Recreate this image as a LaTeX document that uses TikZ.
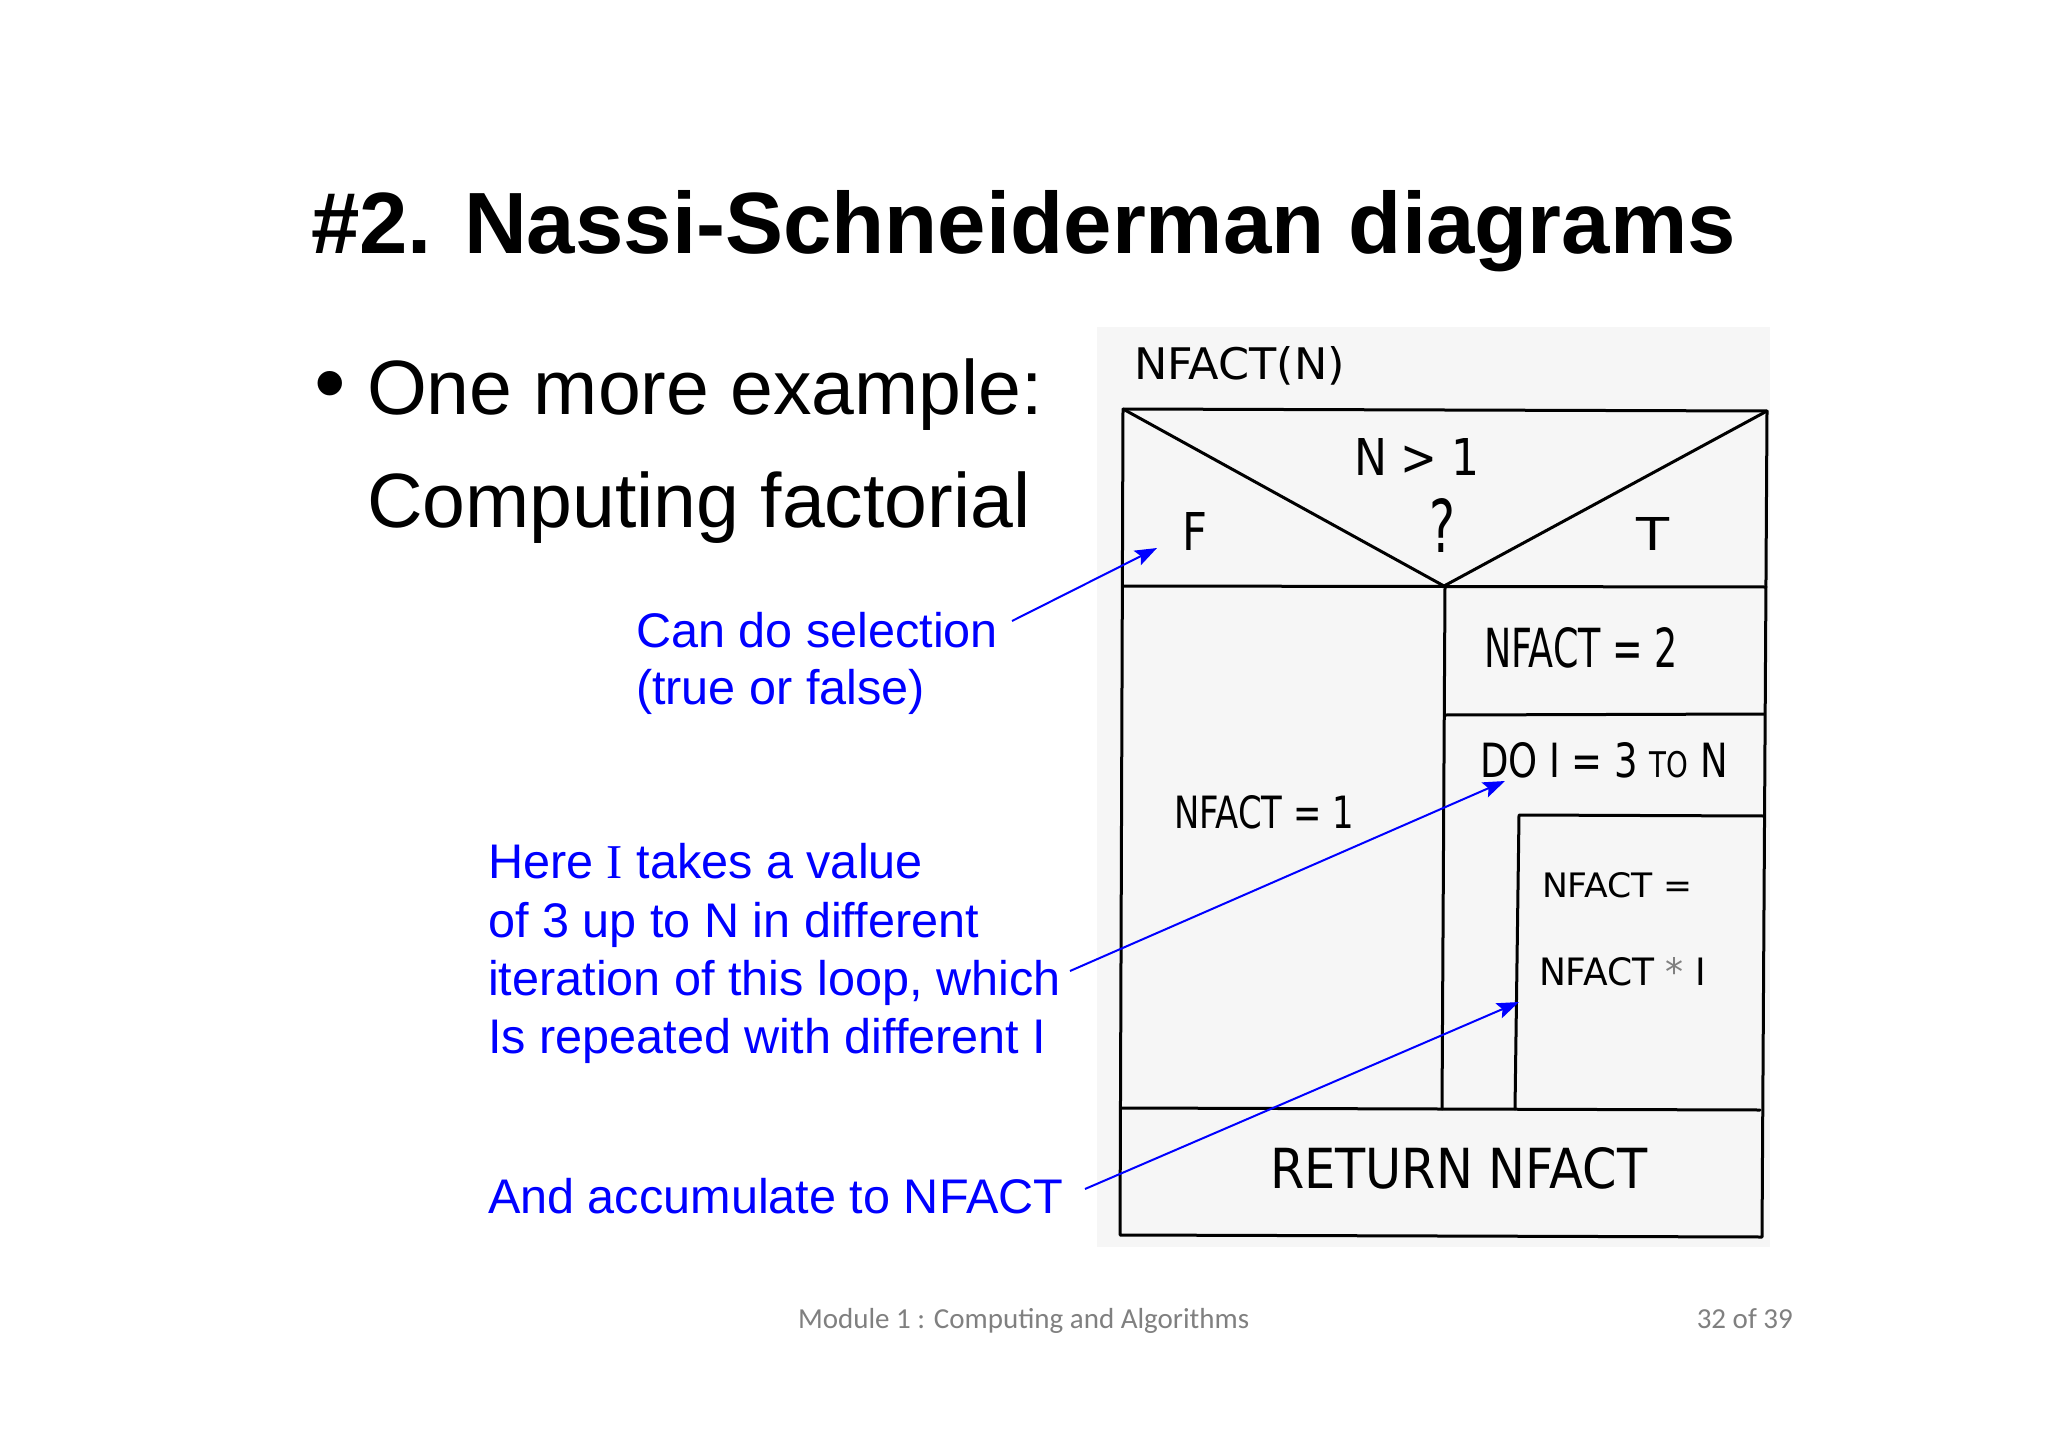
\documentclass[tikz,border=0pt]{standalone}
\usepackage{fontspec}
\usepackage{graphicx}
\setmainfont{Liberation Sans}
\newfontfamily\serifI{Liberation Serif}
\newfontfamily\footfont{Carlito}
\newfontfamily\handfont{DejaVu Sans}
\usetikzlibrary{arrows.meta}
\definecolor{annblue}{RGB}{0,0,255}
\definecolor{footgray}{RGB}{128,128,128}
\definecolor{scanbg}{RGB}{246,246,246}
\newcommand{\hw}[3]{\resizebox{#1pt}{#2pt}{\handfont #3}}
\begin{document}
\begin{tikzpicture}[x=1pt,y=-1pt,
  txt/.style={inner sep=0pt, outer sep=0pt, anchor=base west},
  hand/.style={inner sep=0pt, outer sep=0pt, anchor=base west},
  nsline/.style={line width=3pt, line cap=round, line join=round},
  ann/.style={txt, text=annblue, font=\fontsize{48.6}{58}\selectfont},
  annarrow/.style={draw=annblue, line width=2pt, -{Stealth[length=22pt,width=16pt,inset=4pt]}}]

\useasboundingbox (0,0) rectangle (2048,1447);
\fill[white] (0,0) rectangle (2048,1447);

% title
\node[txt, font=\fontsize{87}{100}\selectfont\bfseries] (title) at (311,254) {\#2. Nassi-Schneiderman diagrams};

% bullet text
\node[inner sep=0pt, anchor=center, font=\fontsize{90}{100}\selectfont] (bul) at (330,392) {•};
\node[txt, font=\fontsize{77}{90}\selectfont] (l1) at (367,414) {One more example:};
\node[txt, font=\fontsize{77}{90}\selectfont] (l2) at (367,527) {Computing factorial};

% scanned diagram background
\fill[scanbg] (1097,327) rectangle (1770,1247);

% Nassi-Schneiderman structure
\draw[nsline] (1123,409) -- (1767,411) -- (1762,1237) -- (1120,1235) -- cycle;
\draw[nsline] (1123,409) -- (1444,586) -- (1767,411);
\draw[nsline] (1123,586) -- (1766,587);
\draw[nsline] (1445,586) -- (1442,1109);
\draw[nsline] (1445,715) -- (1764,714);
\draw[nsline] (1764,816) -- (1519,815) -- (1515,1109);
\draw[nsline] (1121,1108) -- (1760,1110);

% handwritten texts
\node[hand] (fname) at (1134,379) {\hw{211}{33}{NFACT(N)}};
\node[hand] (cond) at (1354,475) {\hw{126}{37}{N > 1}};
\node[hand] (qm) at (1429,552) {\hw{26}{54}{?}};
\node[hand] (fl) at (1182,550) {\hw{25}{38}{F}};
\node[hand] (tl) at (1636,550) {\hw{33}{33}{T}};
\node[hand] (n2) at (1484,667) {\hw{194}{40}{NFACT = 2}};
\node[hand] (loop) at (1480,777) {\hw{248}{35}{DO I = 3 \scalebox{0.75}{TO} N}};
\node[hand] (n1) at (1174,828) {\hw{180}{33}{NFACT = 1}};
\node[hand] (m1) at (1542,897) {\hw{151}{25}{NFACT =}};
\node[hand] (m2) at (1539,985) {\hw{167}{28}{NFACT {\color{gray}*} I}};
\node[hand] (ret) at (1270,1188) {\hw{377}{41}{RETURN NFACT}};

% annotations
\node[ann] (a1a) at (636,647) {Can do selection};
\node[ann] (a1b) at (636,704) {(true or false)};
\node[ann] (a2a) at (488,878) {Here {\serifI I} takes a value};
\node[ann] (a2b) at (488,937) {of 3 up to N in different};
\node[ann] (a2c) at (488,995) {iteration of this loop, which};
\node[ann] (a2d) at (488,1053) {Is repeated with different I};
\node[ann] (a3) at (488,1213) {And accumulate to NFACT};

\coordinate (a1s) at (1012,621);
\coordinate (a1e) at (1157,548);
\coordinate (a2s) at (1070,971);
\coordinate (a2e) at (1505,781);
\coordinate (a3s) at (1085,1189);
\coordinate (a3e) at (1519,1002);
\draw[annarrow] (a1s) -- (a1e);
\draw[annarrow] (a2s) -- (a2e);
\draw[annarrow] (a3s) -- (a3e);

% footer
\node[txt, text=footgray, font=\footfont\fontsize{29}{34}\selectfont] (foot) at (798,1328) {Module 1 : Computing and Algorithms};
\node[inner sep=0pt, anchor=base east, text=footgray, font=\footfont\fontsize{29}{34}\selectfont] (page) at (1793,1328) {32 of 39};
\end{tikzpicture}
\end{document}
